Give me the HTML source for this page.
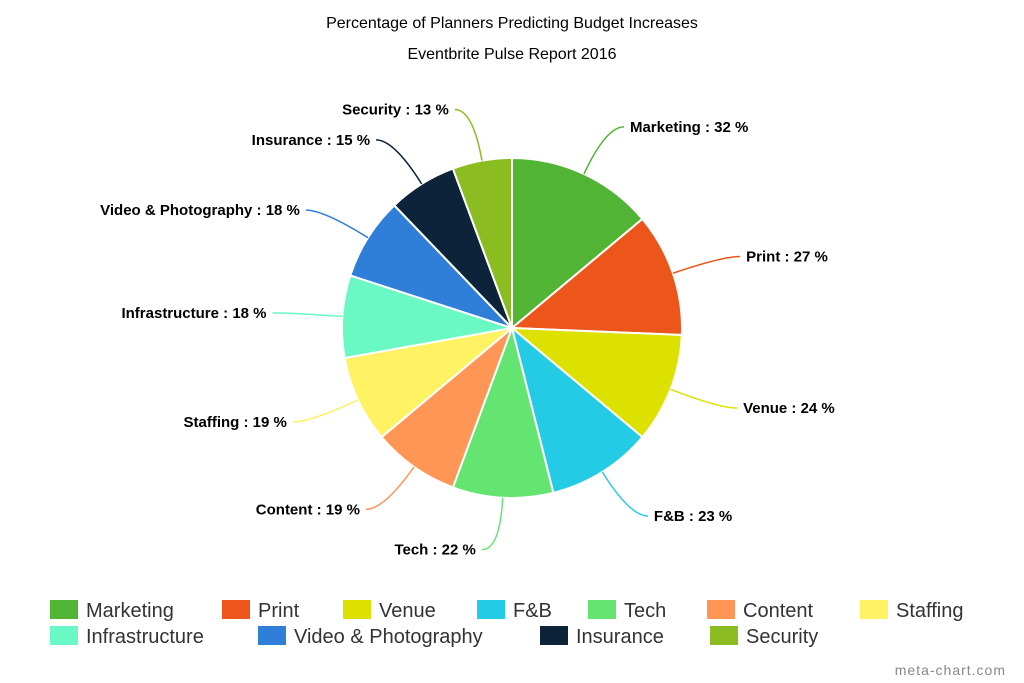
<!DOCTYPE html>
<html><head><meta charset="utf-8"><style>
html,body{margin:0;padding:0;background:#fff;}
svg{display:block;font-family:"Liberation Sans",Arial,sans-serif;}
</style></head><body>
<svg id="chart" width="1024" height="683" viewBox="0 0 1024 683">
<text x="512" y="28" text-anchor="middle" font-size="16" fill="#000">Percentage of Planners Predicting Budget Increases</text>
<text x="512" y="59" text-anchor="middle" font-size="16" fill="#000">Eventbrite Pulse Report 2016</text>
<g id="slices"></g>
<g id="labels"></g>
<g id="legend"></g>
<text x="1006" y="675" text-anchor="end" font-size="14" fill="#888" letter-spacing="1">meta-chart.com</text>
</svg>
<script>
const categories=["Marketing","Print","Venue","F&B","Tech","Content","Staffing","Infrastructure","Video & Photography","Insurance","Security"];
const values=[32,27,24,23,22,19,19,18,18,15,13];
const colors=["#52b434","#ec561b","#dde100","#24cbe5","#64e572","#ff9655","#fff263","#6af9c4","#2f7ed8","#0d233a","#8bbc21"];
const NS="http://www.w3.org/2000/svg";
const cx=512,cy=328,r=170;
const total=values.reduce((a,b)=>a+b,0);
function pt(a,rr){return [cx+rr*Math.sin(a),cy-rr*Math.cos(a)];}
const gS=document.getElementById('slices'),gL=document.getElementById('labels'),gG=document.getElementById('legend');
let a0=0;
values.forEach((v,i)=>{
  const a1=a0+v/total*2*Math.PI;
  const p0=pt(a0,r),p1=pt(a1,r);
  const path=document.createElementNS(NS,'path');
  path.setAttribute('d',`M${cx},${cy}L${p0[0]},${p0[1]}A${r},${r} 0 ${a1-a0>Math.PI?1:0} 1 ${p1[0]},${p1[1]}Z`);
  path.setAttribute('fill',colors[i]);path.setAttribute('stroke','#fff');path.setAttribute('stroke-width','2');
  
  
  gS.appendChild(path);
  const am=(a0+a1)/2;
  const s=pt(am,r),m=pt(am,r+28),e=pt(am,r+52);
  const right=Math.sin(am)>=0;
  const ex=e[0]+(right?18:-18);
  const line=document.createElementNS(NS,'path');
  line.setAttribute('d',`M${s[0]},${s[1]}Q${e[0]},${e[1]} ${ex},${e[1]}`);
  line.setAttribute('fill','none');line.setAttribute('stroke',colors[i]);line.setAttribute('stroke-width','1.5');
  
  
  gL.appendChild(line);
  const t=document.createElementNS(NS,'text');
  t.setAttribute('x',ex+(right?6:-6));t.setAttribute('y',e[1]+5);
  t.setAttribute('text-anchor',right?'start':'end');
  t.setAttribute('font-size','15');t.setAttribute('font-weight','bold');t.setAttribute('fill','#000');
  t.textContent=categories[i]+' : '+v+' %';
  
  
  gL.appendChild(t);
  a0=a1;
});
const legX=[50,222,343,477,588,707,860,50,258,540,710];
const legY=[610,610,610,610,610,610,610,636,636,636,636];
categories.forEach((c,i)=>{
  const g=document.createElementNS(NS,'g');
  
  
  const rc=document.createElementNS(NS,'rect');
  rc.setAttribute('x',legX[i]);rc.setAttribute('y',legY[i]-10);rc.setAttribute('width',28);rc.setAttribute('height',19);rc.setAttribute('fill',colors[i]);
  const t=document.createElementNS(NS,'text');
  t.setAttribute('x',legX[i]+36);t.setAttribute('y',legY[i]+7);t.setAttribute('font-size','20');t.setAttribute('fill','#333');
  t.textContent=c;
  g.appendChild(rc);g.appendChild(t);gG.appendChild(g);
});
</script>
</body></html>
